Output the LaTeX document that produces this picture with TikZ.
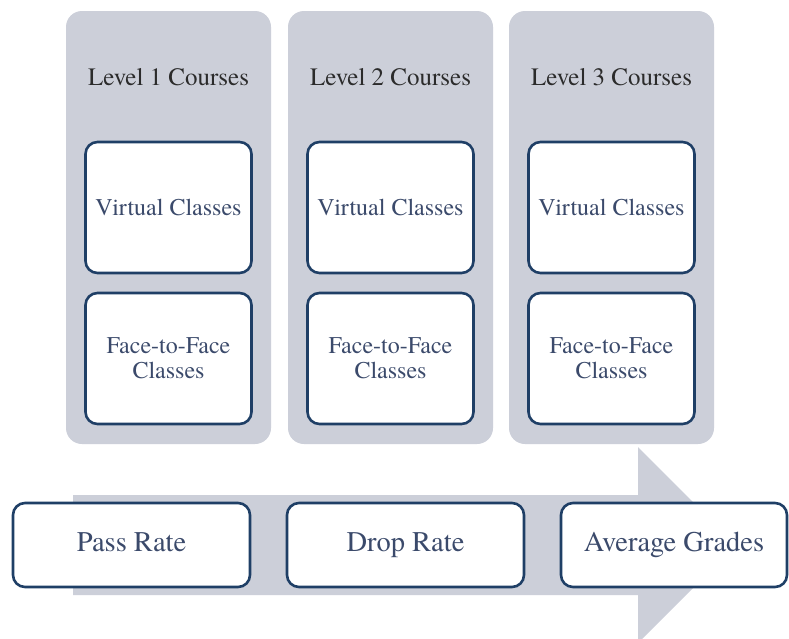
\documentclass[tikz,border=0pt]{standalone}
\usepackage{fontspec}
\setmainfont{TeX Gyre Termes}
\begin{document}
\begin{tikzpicture}[x=1pt,y=-1pt,
  classbox/.style={draw=boxnavy, line width=2.6pt, fill=white, rounded corners=12pt,
    text=boxtext, font=\fontsize{24}{25}\selectfont, align=center, inner sep=0pt},
  title/.style={text=titletext, font=\fontsize{25}{26}\selectfont},
  metricbox/.style={draw=boxnavy, line width=2.6pt, fill=white, rounded corners=12pt,
    text=boxtext, font=\fontsize{28.5}{30}\selectfont, inner sep=0pt,
    text height=19pt, text depth=6pt}]
\definecolor{panelgray}{HTML}{CCCFD9}
\definecolor{boxnavy}{HTML}{1F3F66}
\definecolor{boxtext}{HTML}{3B4A6B}
\definecolor{titletext}{HTML}{2B2B2B}
\useasboundingbox (0,0) rectangle (789,638);
\fill[white] (0,0) rectangle (789,638);

% big arrow running under the outcome boxes
\fill[panelgray] (73,495) -- (638,495) -- (638,447) -- (736,545) -- (638,643)
  -- (638,595) -- (73,595) -- cycle;

% course level panels
\foreach \i/\x in {1/66, 2/288, 3/509} {
  \fill[panelgray, rounded corners=16pt] (\x,11) rectangle (\x+205,444);
  \node[title] (title\i) at (\x+102.5,77) {Level \i{} Courses};
  \node[classbox, minimum width=166pt, minimum height=131pt] (virt\i)
    at (\x+102.5,207.5) {Virtual Classes};
  \node[classbox, minimum width=166pt, minimum height=131pt] (face\i)
    at (\x+102.5,358.5) {Face-to-Face\\Classes};
}

% outcome measures
\node[metricbox, minimum width=237pt, minimum height=84pt] (pass) at (131.5,545) {Pass Rate};
\node[metricbox, minimum width=237pt, minimum height=84pt] (drop) at (405.5,545) {Drop Rate};
\node[metricbox, minimum width=226pt, minimum height=84pt] (avg) at (674,545) {Average Grades};
\end{tikzpicture}
\end{document}
